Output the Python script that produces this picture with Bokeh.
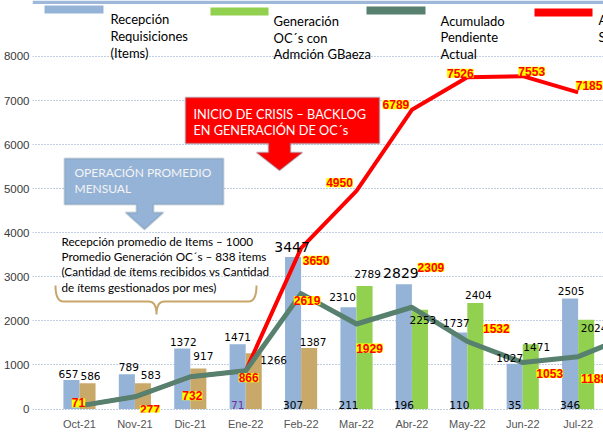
import numpy as np
from bokeh.plotting import figure
from bokeh.models import (ColumnDataSource, Range1d, FixedTicker, LabelSet, Label,
                          BoxAnnotation, PolyAnnotation)
from bokeh.core.properties import value
from bokeh.embed import file_html
from bokeh.resources import INLINE

# ---------------- data ----------------
meses = ["Oct-21", "Nov-21", "Dic-21", "Ene-22", "Feb-22",
         "Mar-22", "Abr-22", "May-22", "Jun-22", "Jul-22"]
recepcion_requisiciones = [657, 789, 1372, 1471, 3447, 2310, 2829, 1737, 1027, 2505]
generacion_oc_anterior = [586, 583, 917, 1266, 1387, None, None, None, None, None]
generacion_oc_gbaeza = [None, None, None, None, None, 2789, 2253, 2404, 1471, 2024]
pendiente_mes = [None, None, None, 71, 307, 211, 196, 110, 35, 346]
# last value is Ago-22, which lies past the right end of the x range
acumulado_pendiente_actual = [71, 277, 732, 866, 2619, 1929, 2309, 1532, 1053, 1188, 1700]
acumulado_sin_gestion = [71, 277, 732, 866, 3650, 4950, 6789, 7526, 7553, 7185]
y_ticks = [0, 1000, 2000, 3000, 4000, 5000, 6000, 7000, 8000]

# ---------------- colours ----------------
AZUL = "#95B3D7"
TAN = "#C9A96A"
VERDE = "#92D050"
TEAL = "#58806F"
ROJO = "#FF0000"

# ---------------- geometry ----------------
W, H = 603, 437
BORDER_L, BORDER_B = 32, 25
FRAME_W, FRAME_H = W - BORDER_L, H - BORDER_B
x_range = Range1d(-0.848, 9.458)
y_range = Range1d(-79, 9269)


def fx(px):
    """canvas x pixel -> data x (for decorations)"""
    return x_range.start + (px - BORDER_L) / FRAME_W * (x_range.end - x_range.start)


def fy(py):
    """canvas y pixel (from top) -> data y (for decorations)"""
    return y_range.end - py / FRAME_H * (y_range.end - y_range.start)


p = figure(width=W, height=H, x_range=x_range, y_range=y_range,
           output_backend="svg", toolbar_location=None,
           min_border=0, min_border_left=BORDER_L, min_border_bottom=BORDER_B)
p.outline_line_color = None
p.background_fill_color = "white"
p.border_fill_color = "white"

# axes
for ax in (p.xaxis, p.yaxis):
    ax.axis_line_color = None
    ax.major_tick_line_color = None
    ax.minor_tick_line_color = None
    ax.major_tick_out = 0
    ax.major_tick_in = 0
    ax.minor_tick_out = 0
    ax.minor_tick_in = 0
    ax.major_label_text_font = "Liberation Sans"

p.yaxis.ticker = FixedTicker(ticks=y_ticks)
p.yaxis.major_label_standoff = 3
p.yaxis.major_label_text_font_size = "11.5px"
p.yaxis.major_label_text_color = "#3A3A3A"

p.xaxis.ticker = FixedTicker(ticks=list(range(len(meses))))
p.xaxis.major_label_overrides = {i: m for i, m in enumerate(meses)}
p.xaxis.major_label_standoff = 5
p.xaxis.major_label_text_font_size = "11px"
p.xaxis.major_label_text_color = "#555555"

p.xgrid.visible = False
p.ygrid.ticker = FixedTicker(ticks=y_ticks)
p.ygrid.grid_line_color = "#7F9DC6"
p.ygrid.grid_line_dash = "1 2"
p.ygrid.grid_line_width = 1

# ---------------- bars ----------------
idx = np.arange(len(meses))
BAR_W, OFF = 0.29, 0.145
bars = ColumnDataSource(dict(
    x_rec=idx - OFF, x_gen=idx + OFF,
    rec=np.array(recepcion_requisiciones, dtype=float),
    ant=np.array(generacion_oc_anterior, dtype=float),
    gb=np.array(generacion_oc_gbaeza, dtype=float),
))
p.vbar(x="x_rec", top="rec", bottom=0, width=BAR_W, source=bars, fill_color=AZUL, line_color=None)
p.vbar(x="x_gen", top="ant", bottom=0, width=BAR_W, source=bars, fill_color=TAN, line_color=None)
p.vbar(x="x_gen", top="gb", bottom=0, width=BAR_W, source=bars, fill_color=VERDE, line_color=None)

# ---------------- lines ----------------
p.line(idx, acumulado_sin_gestion, line_width=4, line_color=ROJO, line_join="round")
p.line(np.arange(len(acumulado_pendiente_actual)), acumulado_pendiente_actual,
       line_width=5, line_color=TEAL, line_join="round")


# ---------------- value labels ----------------
def add_labels(xs, vals, dx, up, texts=None, colors=None, ys=None, **style):
    keep = [i for i, v in enumerate(vals) if v is not None]
    src = ColumnDataSource(dict(
        x=[xs[i] for i in keep],
        y=[(ys[i] if ys is not None else vals[i]) for i in keep],
        text=[(texts[i] if texts else str(vals[i])) for i in keep],
        xo=[dx[i] for i in keep],
        yo=[up[i] for i in keep],
        c=[(colors[i] if colors else "black") for i in keep],
    ))
    p.add_layout(LabelSet(x="x", y="y", text="text", x_offset="xo", y_offset="yo",
                          source=src, text_align="center", text_baseline="middle",
                          text_color="c", **style))


num_style = dict(text_font=value("DejaVu Sans"), text_font_size="10.5px")
big_style = dict(text_font=value("DejaVu Sans"), text_font_size="14px")
yel_style = dict(text_font=value("Liberation Sans"), text_font_size="12px",
                 text_font_style="bold", background_fill_color="#FFFF00")

xs = list(idx)
rec_small = [v if v not in (3447, 2829) else None for v in recepcion_requisiciones]
rec_big = [v if v in (3447, 2829) else None for v in recepcion_requisiciones]
rec_dx = [-11, -6, -7, -8, -9, -14, -11, -11, -13, -7]
rec_up = [6, 7, 7, 7, 10, 10, 11, 9, 6, 8]
add_labels(xs, rec_small, rec_dx, rec_up, **num_style)
add_labels(xs, rec_big, rec_dx, rec_up, **big_style)

segunda = [a if a is not None else b for a, b in zip(generacion_oc_anterior, generacion_oc_gbaeza)]
seg_dx = [11, 16, 13, 28, 12, 11, 11, 11, 14, 16]
seg_up = [7, 8, 13, -7, 6, 12, -10, 8, -3, -8]
add_labels(xs, segunda, seg_dx, seg_up, **num_style)

base_colors = ["black"] * 3 + ["#7030A0"] + ["black"] * 6
add_labels(xs, pendiente_mes, [-8] * 10, [4] * 10, colors=base_colors,
           ys=[0] * 10, **num_style)

teal_dx = [-1, 15, 2, 3, 6, 13, 19, 29, 27, 16]
teal_up = [3, -13, -19, -7, -7, -24, 40, 13, -11, -22]
add_labels(xs, acumulado_pendiente_actual[:10], teal_dx, teal_up,
           colors=[ROJO] * 10, **yel_style)

red_vals = [None] * 4 + acumulado_sin_gestion[4:]
red_dx = [0, 0, 0, 0, 15, -17, -16, -7, 9, 11]
red_up = [0, 0, 0, 0, -12, 8, 5, 4, 5, 7]
add_labels(xs, red_vals, red_dx, red_up, colors=[ROJO] * 10, **yel_style)

# ---------------- header band and legend ----------------
p.add_layout(BoxAnnotation(left=fx(BORDER_L), right=fx(W), top=y_range.end, bottom=fy(3.5),
                           fill_color="#9DB8D9", fill_alpha=1, line_alpha=0))

legend_items = [
    (AZUL, (44, 103, 5, 13), 110, ["Recepción", "Requisiciones", "(Items)"], [18, 35, 52]),
    (VERDE, (210, 268, 7, 15), 273, ["Generación", "OC´s con", "Admción GBaeza"], [20, 37, 53]),
    (TEAL, (366, 425, 6, 14), 440, ["Acumulado", "Pendiente", "Actual"], [20, 36, 53]),
    (ROJO, (534, 592, 8, 16), 598, ["Acumulado", "Sin Gestión"], [19, 36]),
]
for color, (l, r, t, b), tx, lines, tys in legend_items:
    p.add_layout(BoxAnnotation(left=fx(l), right=fx(r), top=fy(t), bottom=fy(b),
                               fill_color=color, fill_alpha=1, line_alpha=0))
    for txt, ty in zip(lines, tys):
        p.add_layout(Label(x=fx(tx), y=fy(ty), text=txt, text_font="Lato",
                           text_font_size="13px", text_baseline="middle", text_color="black"))

# ---------------- callouts ----------------
def callout(pts, fill, line):
    p.add_layout(PolyAnnotation(xs=[fx(a) for a, _ in pts], ys=[fy(b) for _, b in pts],
                                fill_color=fill, fill_alpha=1, line_color=line, line_width=2))


callout([(64, 158), (223, 158), (223, 204), (153, 204), (153, 212), (163, 212), (144, 229),
         (125, 212), (136, 212), (136, 204), (64, 204)], AZUL, "#6B8398")
callout([(185, 97), (379, 97), (379, 143), (290, 143), (290, 152), (302, 152), (279, 170),
         (256, 152), (268, 152), (268, 143), (185, 143)], ROJO, "#6B8398")

for txt, tx, ty, col, fs in [("OPERACIÓN PROMEDIO", 74, 172, "#F4F4F4", "12px"),
                             ("MENSUAL", 74, 188, "#F4F4F4", "12px"),
                             ("INICIO DE CRISIS – BACKLOG", 193, 113, "white", "12.7px"),
                             ("EN GENERACIÓN DE OC´s", 193, 129, "white", "12.7px")]:
    p.add_layout(Label(x=fx(tx), y=fy(ty), text=txt, text_font="Lato",
                       text_font_size=fs, text_baseline="middle", text_color=col))

# ---------------- summary note with brace ----------------
note = ["Recepción promedio de Items – 1000",
        "Promedio Generación OC´s – 838 items",
        "(Cantidad de ítems recibidos vs Cantidad",
        "de ítems gestionados por mes)"]
for txt, ty in zip(note, [240, 255, 270, 286]):
    p.add_layout(Label(x=fx(61), y=fy(ty), text=txt, text_font="Lato",
                       text_font_size="11.7px", text_baseline="middle", text_color="black"))


def quad(p0, c, p1, n=10):
    t = np.linspace(0, 1, n)
    return (((1 - t) ** 2) * p0[0] + 2 * (1 - t) * t * c[0] + t ** 2 * p1[0],
            ((1 - t) ** 2) * p0[1] + 2 * (1 - t) * t * c[1] + t ** 2 * p1[1])


segs = [quad((55, 285), (55, 301), (63, 301)),
        quad((148, 301), (156, 301), (156, 314)),
        quad((156, 314), (156, 301), (164, 301)),
        quad((248, 301), (256, 301), (256, 285))]
bx = np.concatenate([s[0] for s in segs])
by = np.concatenate([s[1] for s in segs])
p.line([fx(v) for v in bx], [fy(v) for v in by], line_color="#C7A56B", line_width=2)

open("out.html", "w").write(file_html(p, INLINE))
